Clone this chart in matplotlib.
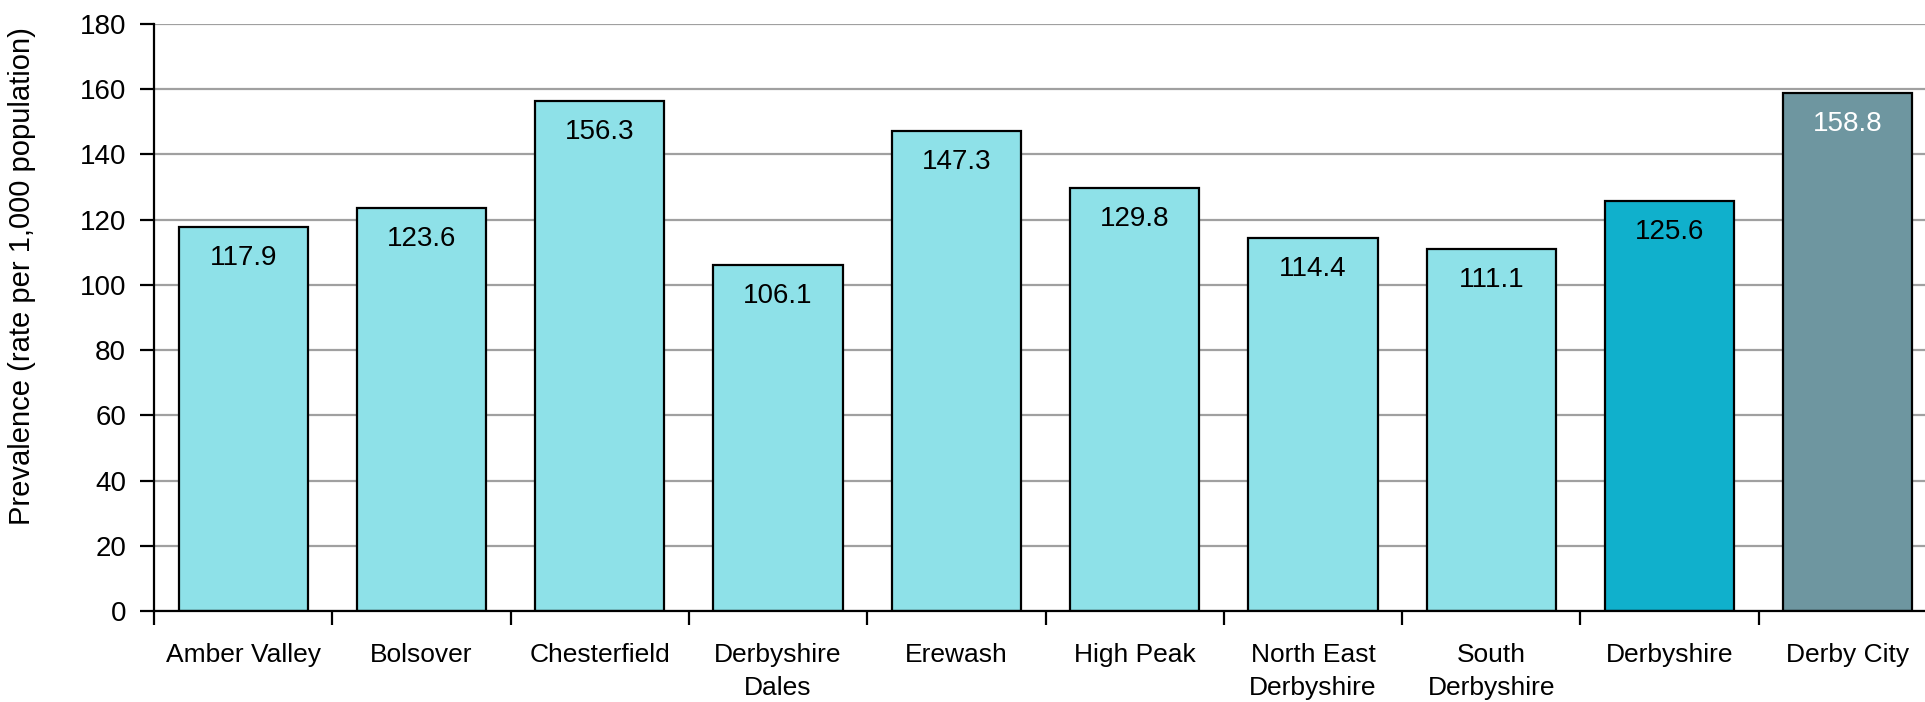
import numpy as np
import matplotlib.pyplot as plt

plt.rcParams['font.family'] = ['Liberation Sans', 'DejaVu Sans']

areas = ['Amber Valley', 'Bolsover', 'Chesterfield', 'Derbyshire\nDales', 'Erewash',
         'High Peak', 'North East\nDerbyshire', 'South\nDerbyshire', 'Derbyshire', 'Derby City']
prevalence = [117.9, 123.6, 156.3, 106.1, 147.3, 129.8, 114.4, 111.1, 125.6, 158.8]
bar_colors = ['#8EE1E8'] * 8 + ['#10B0CC', '#6E96A0']
label_colors = ['black'] * 9 + ['white']

fig = plt.figure(figsize=(19.25, 7.02), dpi=100)
ax = fig.add_axes([154 / 1925, 1 - 611 / 702, 1783 / 1925, 587 / 702])

x = np.arange(len(areas))
bars = ax.bar(x, prevalence, width=0.725, color=bar_colors, edgecolor='black',
              linewidth=1.6, zorder=3)

for rect, val, c in zip(bars, prevalence, label_colors):
    ax.annotate(f'{val:.1f}', (rect.get_x() + rect.get_width() / 2, val),
                xytext=(0, -31), textcoords='offset pixels',
                ha='center', va='center', fontsize=20, color=c, zorder=4)

ax.set_xlim(-0.5, len(areas) - 0.5)
ax.set_ylim(0, 180)
ax.set_yticks(np.arange(0, 181, 20))
ax.yaxis.grid(True, color='#A0A0A0', linewidth=1.6, zorder=0)
ax.tick_params(axis='y', labelsize=20, length=10, width=1.6, direction='out', pad=10)

# category labels centred, tick marks between categories
ax.set_xticks(x, labels=areas, fontsize=19, linespacing=1.5)
ax.tick_params(axis='x', which='major', length=0, pad=23)
ax.set_xticks(np.arange(-0.5, len(areas), 1), minor=True)
ax.tick_params(axis='x', which='minor', length=10, width=1.6, direction='out')

ax.set_ylabel('Prevalence (rate per 1,000 population)', fontsize=21)
ax.yaxis.set_label_coords(-0.066, 0.57)

for side in ['top', 'right']:
    ax.spines[side].set_visible(False)
for side in ['left', 'bottom']:
    ax.spines[side].set_linewidth(1.6)
    ax.spines[side].set_zorder(5)

fig.savefig('out.png', dpi=100)
